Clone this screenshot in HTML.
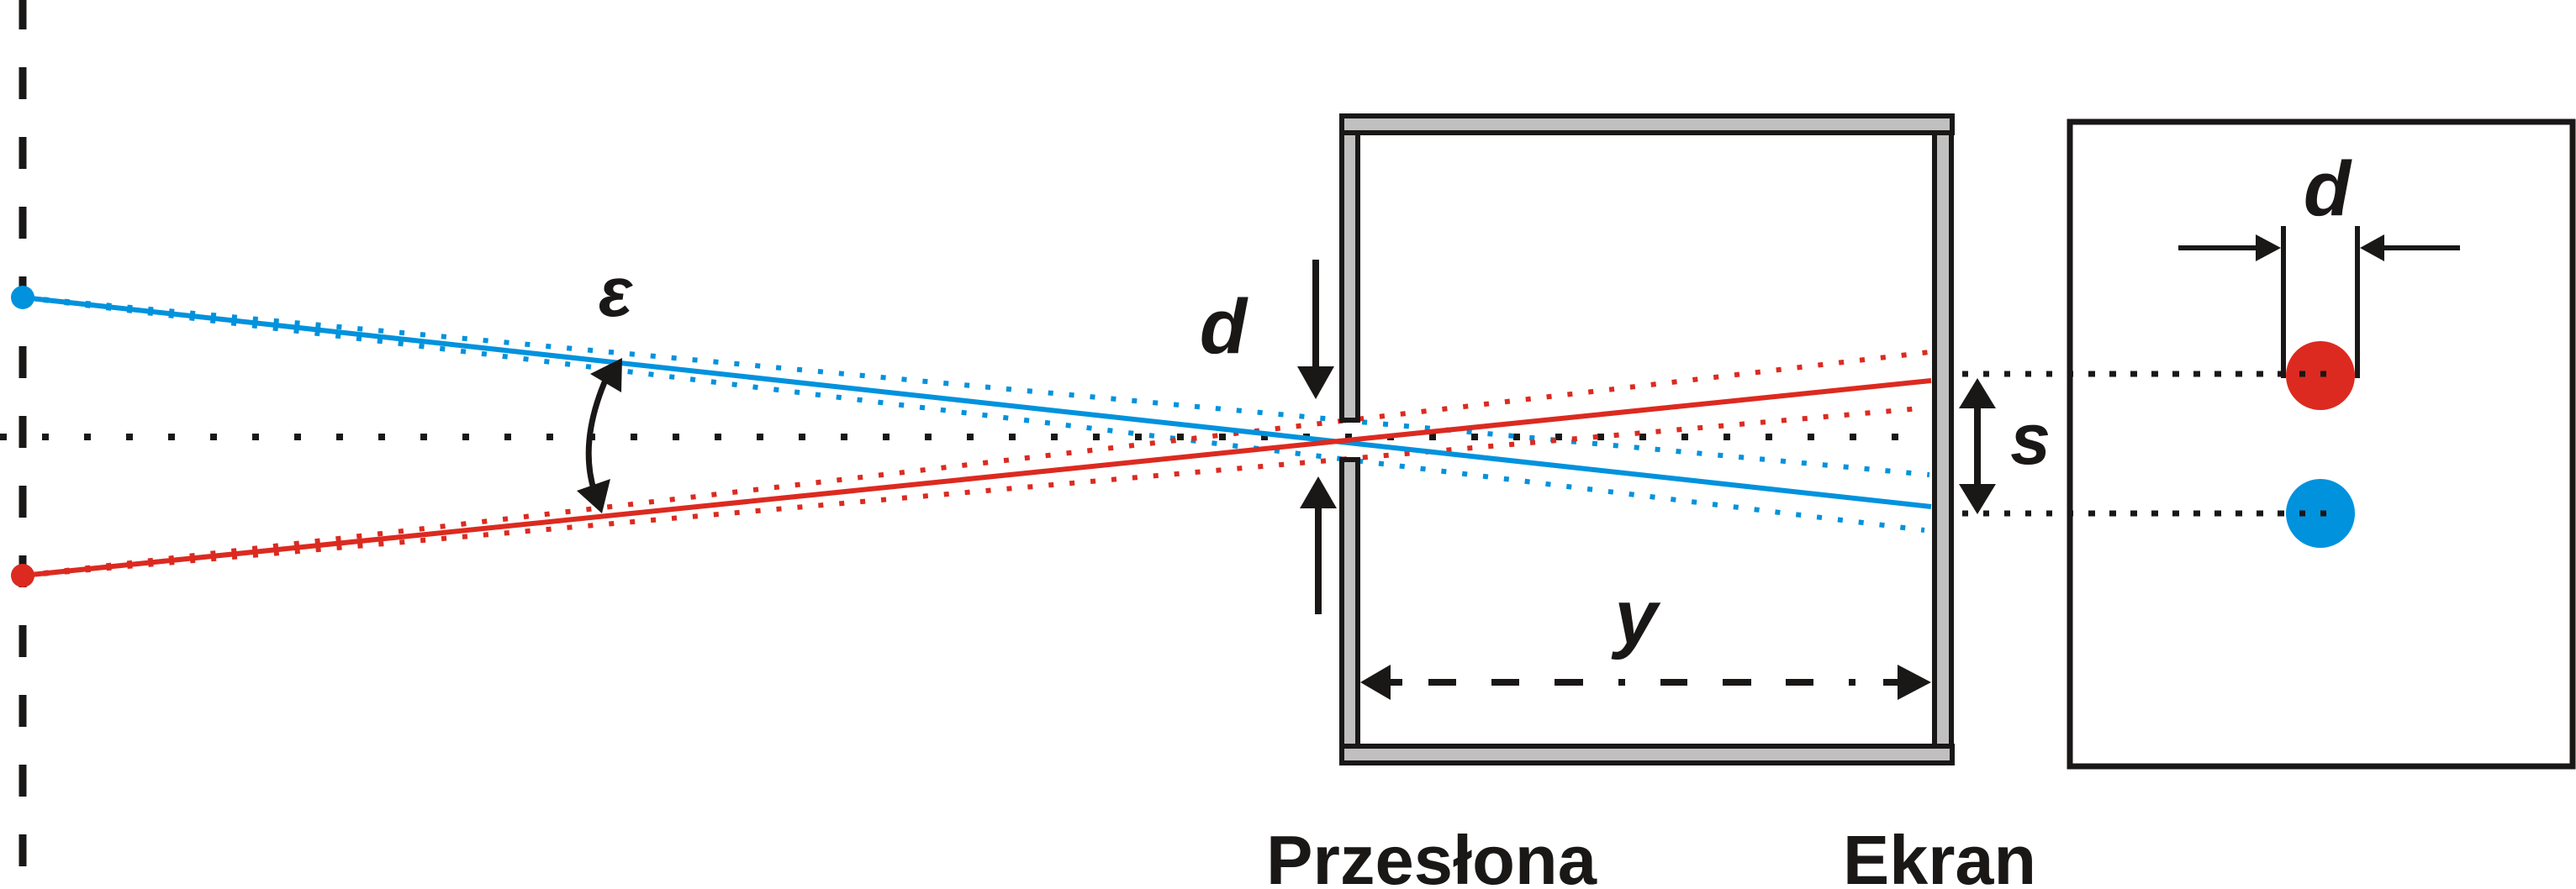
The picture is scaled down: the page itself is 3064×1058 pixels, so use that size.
<!DOCTYPE html>
<html><head><meta charset="utf-8"><style>
html,body{margin:0;padding:0;background:#fff;}
svg{display:block;}
text{font-family:"Liberation Sans",sans-serif;font-weight:bold;fill:#1a1717;}
</style></head><body>
<svg width="3064" height="1058" viewBox="0 0 3064 1058" xmlns="http://www.w3.org/2000/svg">
<!-- vertical dashed line -->
<line x1="27" y1="0" x2="27" y2="1058" stroke="#1a1717" stroke-width="9" stroke-dasharray="38 45" stroke-dashoffset="3"/>
<!-- axis dotted -->
<line x1="0" y1="520" x2="2300" y2="520" stroke="#1a1717" stroke-width="8" stroke-dasharray="8 42"/>
<!-- dotted colored rays -->
<g stroke-width="6" stroke-dasharray="6 19" fill="none">
<line x1="27" y1="354" x2="2295" y2="565" stroke="#0092dd"/>
<line x1="27" y1="354" x2="2289" y2="631" stroke="#0092dd"/>
<line x1="27" y1="685" x2="2295" y2="419" stroke="#dc2a20"/>
<line x1="27" y1="685" x2="2284" y2="486" stroke="#dc2a20"/>
</g>
<!-- solid rays -->
<line x1="27" y1="354" x2="2297" y2="603" stroke="#0092dd" stroke-width="6"/>
<line x1="27" y1="685" x2="2297" y2="453" stroke="#dc2a20" stroke-width="6"/>
<circle cx="27" cy="354" r="14" fill="#0092dd"/>
<circle cx="27" cy="685" r="14" fill="#dc2a20"/>
<!-- box walls -->
<g fill="#c0c0c0" stroke="#1a1717" stroke-width="6">
<rect x="1596" y="138" width="726" height="20"/>
<rect x="1596" y="888" width="726" height="20"/>
<rect x="1596" y="158" width="19" height="342"/>
<rect x="1596" y="547" width="19" height="341"/>
<rect x="2301" y="158" width="20" height="730"/>
</g>
<!-- d arrows at slit -->
<g fill="#1a1717" stroke="#1a1717">
<line x1="1565" y1="309" x2="1565" y2="440" stroke-width="8"/>
<polygon points="1543,436 1587,436 1565,475" stroke="none"/>
<line x1="1568" y1="600" x2="1568" y2="731" stroke-width="8"/>
<polygon points="1546,605 1590,605 1568,567" stroke="none"/>
</g>
<!-- y dimension -->
<g stroke="#1a1717" stroke-width="8">
<line x1="1650" y1="812" x2="1668" y2="812"/>
<line x1="1699" y1="812" x2="1732" y2="812"/>
<line x1="1774" y1="812" x2="1807" y2="812"/>
<line x1="1849" y1="812" x2="1883" y2="812"/>
<line x1="1925" y1="812" x2="1933" y2="812"/>
<line x1="1975" y1="812" x2="2007" y2="812"/>
<line x1="2049" y1="812" x2="2083" y2="812"/>
<line x1="2124" y1="812" x2="2157" y2="812"/>
<line x1="2199" y1="812" x2="2207" y2="812"/>
<line x1="2240" y1="812" x2="2260" y2="812"/>
</g>
<polygon points="1618,812 1654,791 1654,833" fill="#1a1717"/>
<polygon points="2297,812 2257,791 2257,833" fill="#1a1717"/>
<!-- s dimension -->
<line x1="2334" y1="445" x2="2770" y2="445" stroke="#1a1717" stroke-width="7" stroke-dasharray="7 18"/>
<line x1="2334" y1="611" x2="2770" y2="611" stroke="#1a1717" stroke-width="7" stroke-dasharray="7 18"/>
<line x1="2352" y1="480" x2="2352" y2="580" stroke="#1a1717" stroke-width="8"/>
<polygon points="2352,450 2330,486 2374,486" fill="#1a1717"/>
<polygon points="2352,612 2330,576 2374,576" fill="#1a1717"/>
<!-- epsilon arc -->
<path d="M722,448 Q688,525 707,585" fill="none" stroke="#1a1717" stroke-width="7"/>
<polygon points="740,426 702,445 739,467" fill="#1a1717"/>
<polygon points="716,611 686,584 726,570" fill="#1a1717"/>
<!-- right box -->
<rect x="2462" y="145" width="598" height="767" fill="none" stroke="#1a1717" stroke-width="7"/>
<circle cx="2760" cy="447" r="41" fill="#dc2a20"/>
<circle cx="2760" cy="611" r="41" fill="#0092dd"/>
<line x1="2485" y1="445" x2="2770" y2="445" stroke="#1a1717" stroke-width="7" stroke-dasharray="7 18"/>
<line x1="2485" y1="611" x2="2770" y2="611" stroke="#1a1717" stroke-width="7" stroke-dasharray="7 18"/>
<g stroke="#1a1717" stroke-width="6">
<line x1="2716" y1="269" x2="2716" y2="450"/>
<line x1="2804" y1="269" x2="2804" y2="450"/>
<line x1="2591" y1="295" x2="2690" y2="295"/>
<line x1="2830" y1="295" x2="2926" y2="295"/>
</g>
<polygon points="2713,295 2683,279 2683,311" fill="#1a1717"/>
<polygon points="2807,295 2836,279 2836,311" fill="#1a1717"/>
<!-- labels -->
<text x="732" y="376" font-size="84" font-style="italic" text-anchor="middle">ε</text>
<text x="1455" y="420" font-size="92" font-style="italic" text-anchor="middle">d</text>
<text x="2768" y="256" font-size="92" font-style="italic" text-anchor="middle">d</text>
<text x="2415" y="552" font-size="86" font-style="italic" text-anchor="middle">s</text>
<text x="1946" y="766" font-size="92" font-style="italic" text-anchor="middle">y</text>
<text x="1506" y="1052" font-size="83" textLength="393" lengthAdjust="spacingAndGlyphs">Przesłona</text>
<text x="2192" y="1052" font-size="83" textLength="230" lengthAdjust="spacingAndGlyphs">Ekran</text>
</svg>
</body></html>
